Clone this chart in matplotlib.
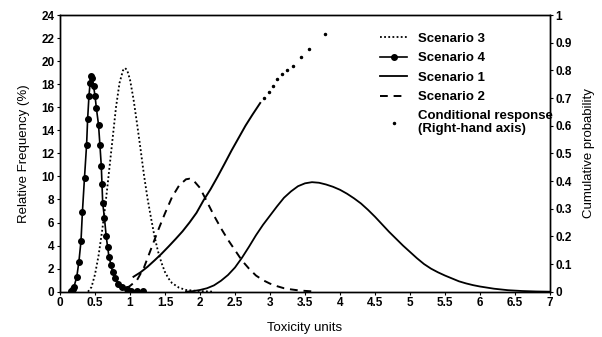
import matplotlib
matplotlib.use("Agg")
import matplotlib.pyplot as plt
from matplotlib.ticker import FormatStrFormatter, MultipleLocator

plt.rcParams['font.family'] = ['Liberation Sans', 'DejaVu Sans']

# Scenario 3 (dotted)
s3_x = [0.40, 0.45, 0.50, 0.55, 0.60, 0.65, 0.70, 0.75, 0.80, 0.85, 0.90, 0.93, 0.96,
        1.00, 1.05, 1.10, 1.15, 1.20, 1.25, 1.30, 1.35, 1.40, 1.45, 1.50, 1.55, 1.60,
        1.70, 1.80, 2.00, 2.20]
s3_y = [0.0, 0.4, 1.5, 3.1, 5.2, 7.6, 10.4, 13.2, 16.0, 18.1, 19.2, 19.4, 19.2,
        18.4, 16.7, 14.6, 12.4, 10.1, 8.1, 6.4, 4.8, 3.5, 2.5, 1.7, 1.15, 0.75,
        0.35, 0.15, 0.05, 0.0]

# Scenario 4 (line with filled markers)
s4_x = [0.15, 0.18, 0.20, 0.24, 0.27, 0.30, 0.32, 0.35, 0.38, 0.395, 0.414, 0.43, 0.447,
        0.46, 0.48, 0.50, 0.52, 0.55, 0.57, 0.59, 0.60, 0.61, 0.635, 0.66, 0.68, 0.70,
        0.73, 0.75, 0.79, 0.83, 0.88, 0.95, 1.02, 1.10, 1.19]
s4_y = [0.05, 0.2, 0.43, 1.3, 2.6, 4.4, 6.9, 9.9, 12.75, 15.0, 17.0, 18.1, 18.7,
        18.55, 17.8, 17.0, 15.9, 14.5, 12.75, 10.9, 9.3, 7.7, 6.4, 4.8, 3.9, 3.0,
        2.3, 1.7, 1.2, 0.7, 0.4, 0.2, 0.1, 0.05, 0.02]

# Scenario 1 (solid)
s1_x = [1.80, 1.90, 2.00, 2.10, 2.20, 2.30, 2.40, 2.50, 2.60, 2.70, 2.80, 2.90, 3.00,
        3.10, 3.20, 3.30, 3.40, 3.50, 3.60, 3.70, 3.80, 3.90, 4.00, 4.10, 4.20, 4.30,
        4.40, 4.50, 4.60, 4.70, 4.80, 4.90, 5.00, 5.10, 5.20, 5.30, 5.40, 5.50, 5.60,
        5.70, 5.80, 5.90, 6.00, 6.20, 6.40, 6.60, 6.80, 7.00]
s1_y = [0.0, 0.05, 0.15, 0.3, 0.55, 0.95, 1.45, 2.1, 2.95, 3.9, 4.9, 5.8, 6.6,
        7.4, 8.15, 8.7, 9.15, 9.4, 9.5, 9.45, 9.3, 9.1, 8.84, 8.5, 8.1, 7.65,
        7.1, 6.5, 5.85, 5.2, 4.6, 4.0, 3.45, 2.9, 2.4, 2.0, 1.68, 1.4, 1.15,
        0.9, 0.72, 0.57, 0.45, 0.26, 0.13, 0.06, 0.02, 0.0]

# Scenario 2 (dashed)
s2_x = [0.95, 1.00, 1.10, 1.20, 1.30, 1.40, 1.50, 1.60, 1.70, 1.80, 1.85, 1.90, 2.00,
        2.10, 2.20, 2.30, 2.40, 2.50, 2.60, 2.70, 2.80, 2.90, 3.00, 3.10, 3.20, 3.30,
        3.40, 3.50, 3.60]
s2_y = [0.3, 0.5, 1.0, 2.1, 3.7, 5.3, 6.8, 8.2, 9.2, 9.75, 9.8, 9.7, 9.0,
        7.8, 6.6, 5.5, 4.5, 3.6, 2.7, 2.0, 1.4, 1.0, 0.7, 0.48, 0.3, 0.2,
        0.12, 0.07, 0.03]

# Conditional response, cumulative probability (right-hand axis)
cr_x_solid = [1.05, 1.15, 1.25, 1.35, 1.45, 1.55, 1.65, 1.75, 1.85, 1.95, 2.05, 2.15,
              2.25, 2.35, 2.45, 2.55, 2.65, 2.75, 2.86]
cr_y_solid = [0.054, 0.07, 0.09, 0.113, 0.137, 0.163, 0.19, 0.218, 0.25, 0.285, 0.33,
              0.37, 0.415, 0.462, 0.51, 0.555, 0.6, 0.64, 0.682]
cr_x_dots = [2.92, 2.98, 3.04, 3.10, 3.17, 3.24, 3.33, 3.44, 3.55, 3.79]
cr_y_dots = [0.70, 0.72, 0.745, 0.767, 0.785, 0.80, 0.815, 0.85, 0.876, 0.93]

x_ticks = [i * 0.5 for i in range(15)]

fig = plt.figure(figsize=(6.02, 3.37), dpi=100)
ax = fig.add_axes([60 / 602, 1 - 291.7 / 337, 490 / 602, 276.7 / 337])
ax2 = ax.twinx()

h3, = ax.plot(s3_x, s3_y, color='black', lw=1.3, linestyle=(0, (1, 1.3)), label='Scenario 3')
h4, = ax.plot(s4_x, s4_y, color='black', lw=1.2, marker='o', ms=4, label='Scenario 4')
h1, = ax.plot(s1_x, s1_y, color='black', lw=1.3, label='Scenario 1')
h2, = ax.plot(s2_x, s2_y, color='black', lw=1.4, linestyle=(0, (4, 3)), label='Scenario 2')

ax2.plot(cr_x_solid, cr_y_solid, color='black', lw=1.4)
hc, = ax2.plot(cr_x_dots, cr_y_dots, color='black', linestyle='none', marker='.', ms=3,
               label='Conditional response\n(Right-hand axis)')

ax.set_xlim(0, 7)
ax.set_ylim(0, 24)
ax2.set_ylim(0, 1)
ax.set_xticks(x_ticks)
ax.xaxis.set_major_formatter(FormatStrFormatter('%g'))
ax.yaxis.set_major_locator(MultipleLocator(2))
ax2.yaxis.set_major_locator(MultipleLocator(0.1))
ax2.yaxis.set_major_formatter(FormatStrFormatter('%g'))

for a in (ax, ax2):
    a.tick_params(labelsize=8.5, length=2, width=0.8, direction='out', pad=2)
    for lab in a.get_xticklabels() + a.get_yticklabels():
        lab.set_fontweight('bold')
    for sp in a.spines.values():
        sp.set_linewidth(1.0)

ax.set_xlabel('Toxicity units', fontsize=9.5, labelpad=9)
ax.set_ylabel('Relative Frequency (%)', fontsize=9.5, labelpad=8)
ax2.set_ylabel('Cumulative probability', fontsize=9.5, labelpad=8)

leg = ax2.legend(handles=[h3, h4, h1, h2, hc], loc='upper left',
                 bbox_to_anchor=(380 / 602, 1 - 32.5 / 337), bbox_transform=fig.transFigure,
                 frameon=False, fontsize=9.5, handlelength=2.05, handletextpad=0.83,
                 labelspacing=0.55, borderpad=0, borderaxespad=0)
for t in leg.get_texts():
    t.set_fontweight('bold')
    t.set_linespacing(1.1)

fig.savefig('out.png', dpi=100)
